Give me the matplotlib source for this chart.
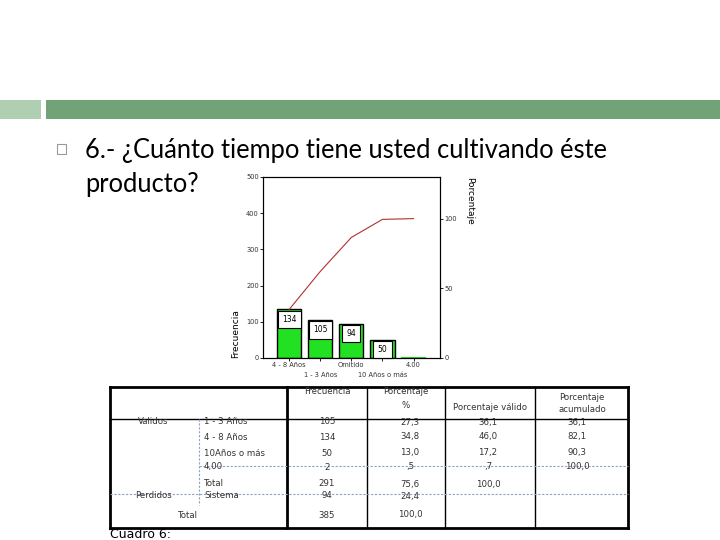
import numpy as np
import matplotlib.pyplot as plt
from matplotlib.patches import Rectangle

# chart data (Pareto)
chart_labels = ["4 - 8 Años", "1 - 3 Años", "Omitido", "10 Años o más", "4.00"]
chart_freq = [134, 105, 94, 50, 2]
total_n = 385

# table data
row_groups = ["Validos", "", "", "", "", "Perdidos", ""]
row_cats = ["1 - 3 Años", "4 - 8 Años", "10Años o más", "4,00", "Total", "Sistema", ""]
col_frec = ["105", "134", "50", "2", "291", "94", "385"]
col_pct = ["27,3", "34,8", "13,0", ",5", "75,6", "24,4", "100,0"]
col_valid = ["36,1", "46,0", "17,2", ",7", "100,0", "", ""]
col_acum = ["36,1", "82,1", "90,3", "100,0", "", "", ""]

title_lines = ["6.- ¿Cuánto tiempo tiene usted cultivando éste", "producto?"]

fig = plt.figure(figsize=(7.2, 5.4), dpi=100)

# slide overlay in pixel coordinates
bg = fig.add_axes([0, 0, 1, 1])
bg.set_xlim(0, 720)
bg.set_ylim(540, 0)
bg.axis("off")

# header bars
bg.add_patch(Rectangle((0, 100), 41, 19, color="#b0ceb2", lw=0))
bg.add_patch(Rectangle((46, 100), 674, 19, color="#72a376", lw=0))

# bullet + title
bg.add_patch(Rectangle((57, 144), 9, 10, fill=False, ec="#999999", lw=0.8))
bg.text(85, 158, title_lines[0], fontsize=18.4, family="Lato", va="baseline", ha="left")
bg.text(85, 192, title_lines[1], fontsize=18.4, family="Lato", va="baseline", ha="left")

# table lines
dash_c = "#8fa3bd"
bg.plot([110, 628], [387, 387], color="black", lw=2)
bg.plot([110, 628], [528, 528], color="black", lw=2)
bg.plot([110, 110], [387, 528], color="black", lw=2)
bg.plot([628, 628], [387, 528], color="black", lw=2)
bg.plot([287, 287], [387, 528], color="black", lw=2)
bg.plot([110, 628], [419, 419], color="black", lw=1)
for xv in [367, 445, 535]:
    bg.plot([xv, xv], [387, 528], color="black", lw=1)
bg.plot([199, 199], [419, 505], color=dash_c, lw=0.8, ls=(0, (2, 1.5)))
bg.plot([199, 628], [466, 466], color=dash_c, lw=0.8, ls=(0, (2, 1.5)))
bg.plot([110, 628], [494, 494], color=dash_c, lw=0.8, ls=(0, (2, 1.5)))

tfs = 6.2
tc = "#333333"
bg.text(327, 391, "Frecuencia", fontsize=tfs, color=tc, ha="center", va="center")
bg.text(406, 391, "Porcentaje", fontsize=tfs, color=tc, ha="center", va="center")
bg.text(406, 405, "%", fontsize=tfs, color=tc, ha="center", va="center")
bg.text(490, 407, "Porcentaje válido", fontsize=tfs, color=tc, ha="center", va="center")
bg.text(582, 398, "Porcentaje", fontsize=tfs, color=tc, ha="center", va="center")
bg.text(582, 409, "acumulado", fontsize=tfs, color=tc, ha="center", va="center")

row_y = [422, 437, 453, 467, 484, 496, 515]
for i, y in enumerate(row_y):
    if row_groups[i]:
        bg.text(153, y, row_groups[i], fontsize=tfs, color=tc, ha="center", va="center")
    if row_cats[i]:
        bg.text(204, y, row_cats[i], fontsize=tfs, color=tc, ha="left", va="center")
    bg.text(327, y, col_frec[i], fontsize=tfs, color=tc, ha="center", va="center")
    bg.text(410, y, col_pct[i], fontsize=tfs, color=tc, ha="center", va="center")
    bg.text(488, y, col_valid[i], fontsize=tfs, color=tc, ha="center", va="center")
    bg.text(577, y, col_acum[i], fontsize=tfs, color=tc, ha="center", va="center")
bg.text(188, 515, "Total", fontsize=tfs, color=tc, ha="center", va="center")
bg.text(110, 534, "Cuadro 6:", fontsize=9, color="black", ha="left", va="center")

# pareto chart
ax = fig.add_axes([263 / 720, 1 - 358 / 540, 177 / 720, 181 / 540])
pos = np.arange(len(chart_freq))
edge_w = [1 if v > 10 else 0 for v in chart_freq]
ax.bar(pos, chart_freq, width=0.78, color="#22e022", edgecolor="black", lw=edge_w)
box_pad = 0.55
fs_lab = 5.5
for p, v in zip(pos, chart_freq):
    if v > 10:
        ax.annotate(str(v), (p, v), xytext=(0, -box_pad * fs_lab - 0.8),
                    textcoords="offset points", ha="center", va="top", fontsize=fs_lab,
                    bbox=dict(boxstyle=f"square,pad={box_pad}", fc="white", ec="black", lw=0.8))
cum = np.cumsum(chart_freq)
ax.plot(pos, cum, color="#b03030", lw=0.8)
ax.set_xlim(-0.84, 4.85)
ax.set_ylim(0, 500)
ax.set_yticks([0, 100, 200, 300, 400, 500])
ax.tick_params(labelsize=4.8, length=2, width=0.6, pad=1, labelcolor="#333333")
ax.set_xticks(pos)
ax.set_xticklabels(chart_labels)
for i, t in enumerate(ax.xaxis.get_major_ticks()):
    if i % 2 == 1:
        t.set_pad(8)
for s in ax.spines.values():
    s.set_linewidth(0.8)
ax.set_ylabel("Frecuencia", fontsize=6.5, labelpad=4, loc="bottom")

ax2 = ax.twinx()
ax2.set_ylim(0, 500 / total_n * 100)
ax2.set_yticks([0, 50, 100])
ax2.tick_params(labelsize=4.8, length=2, width=0.6, pad=1, labelcolor="#333333")
bg.text(470, 177, "Porcentaje", fontsize=6.5, rotation=270, ha="center", va="top")

fig.savefig("out.png", dpi=100)
